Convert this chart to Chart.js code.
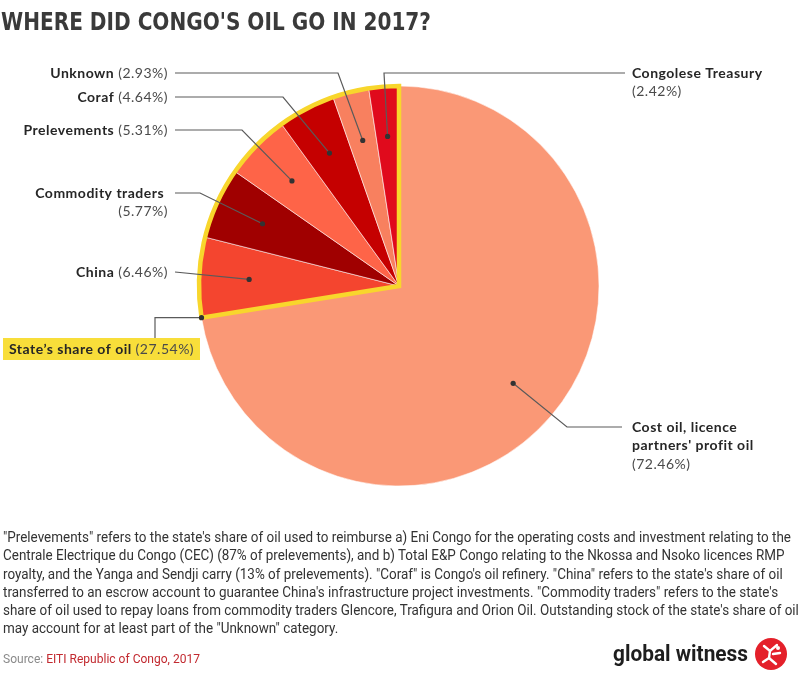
<!DOCTYPE html>
<html>
<head>
<meta charset="utf-8">
<script src="https://cdn.jsdelivr.net/npm/chart.js@4/dist/chart.umd.min.js"></script>
<style>
  html, body { margin: 0; padding: 0; background: #fff; }
  body { width: 800px; height: 678px; position: relative; overflow: hidden;
         font-family: "Liberation Sans Narrow", Roboto, sans-serif; }
  #pie { position: absolute; left: 0; top: 0; }
  .fit { transform-origin: 0 50%; display: inline-block; white-space: nowrap; }
  .title { position: absolute; left: 1px; top: 7px; color: #3a3a3a;
           font: bold 25px "DejaVu Sans Condensed", "DejaVu Sans", sans-serif; }
  .note { position: absolute; left: 3px; top: 528px; font-size: 15px; line-height: 18.3px; color: #333; }
  .note div { height: 18.3px; }
  .source { position: absolute; left: 3px; top: 650px; font-size: 13.5px; color: #8a8a8a; }
  .source .src { color: #c22a30; }
  .brand { position: absolute; left: 613px; top: 641px; font: bold 22px Roboto, sans-serif; color: #1e1e1e; }
  .logo { position: absolute; left: 754px; top: 637px; }
</style>
</head>
<body>
<canvas id="pie" width="800" height="678"></canvas>
<div class="title"><span class="fit" data-w="430">WHERE DID CONGO'S OIL GO IN 2017?</span></div>
<div class="note" id="note">
  <div><span class="fit">"Prelevements" refers to the state's share of oil used to reimburse a) Eni Congo for the operating costs and investment relating to the</span></div>
  <div><span class="fit">Centrale Electrique du Congo (CEC) (87% of prelevements), and b) Total E&amp;P Congo relating to the Nkossa and Nsoko licences RMP</span></div>
  <div><span class="fit">royalty, and the Yanga and Sendji carry (13% of prelevements). "Coraf" is Congo's oil refinery. "China" refers to the state's share of oil</span></div>
  <div><span class="fit">transferred to an escrow account to guarantee China's infrastructure project investments. "Commodity traders" refers to the state's</span></div>
  <div><span class="fit">share of oil used to repay loans from commodity traders Glencore, Trafigura and Orion Oil. Outstanding stock of the state's share of oil</span></div>
  <div><span class="fit">may account for at least part of the "Unknown" category.</span></div>
</div>
<div class="source"><span class="fit" data-w="197">Source: <span class="src">EITI Republic of Congo, 2017</span></span></div>
<div class="brand"><span class="fit" data-w="135">global witness</span></div>
<svg class="logo" width="34" height="34" viewBox="0 0 34 34">
  <circle cx="17" cy="17" r="16" fill="#e4202a"/>
  <g stroke="#fff" stroke-width="2.4" fill="none" stroke-linecap="round">
    <path d="M10 9 L16 14 L23 8"/>
    <path d="M16 14 L15 21 L9 25"/>
    <path d="M15 21 L22 27"/>
    <path d="M19 17 L26 16"/>
  </g>
  <circle cx="24" cy="11" r="2" fill="#fff"/>
</svg>

<script>
/* ── DATA ───────────────────────────────────────────────── */
const sliceNames  = ["Cost oil, licence partners' profit oil", "China", "Commodity traders",
                     "Prelevements", "Coraf", "Unknown", "Congolese Treasury"];
const sliceShares = [72.46, 6.46, 5.77, 5.31, 4.64, 2.93, 2.42];
const sliceColors = ["#fa9876", "#f4452f", "#a00000", "#fe6448", "#c50000", "#f8805f", "#e00a1c"];
const stateName   = "State’s share of oil";
const stateShare  = 27.54;

/* ── LABEL LAYOUT (position of text + elbow of leader) ──── */
const layout = [
  { lines: ["Cost oil, licence", "partners' profit oil"], pctOwnLine: true, align: "left",
    x: 632, y: 427, start: [622, 427], elbow: [567, 427] },
  { lines: ["China"], align: "right", x: 168, y: 272, start: [175, 272], elbow: null },
  { lines: ["Commodity traders"], pctOwnLine: true, align: "right",
    x: 168, y: 193, start: [175, 193], elbow: [200, 193] },
  { lines: ["Prelevements"], align: "right", x: 168, y: 130, start: [175, 130], elbow: [242, 130] },
  { lines: ["Coraf"], align: "right", x: 168, y: 97, start: [175, 97], elbow: [283, 97] },
  { lines: ["Unknown"], align: "right", x: 168, y: 73, start: [175, 73], elbow: [338, 73] },
  { lines: ["Congolese Treasury"], pctOwnLine: true, align: "left",
    x: 632, y: 73, start: [625, 73], elbow: [384, 73] }
];

const BOLD = "bold 14px Lato, 'Noto Sans', sans-serif";
const REG  = "14px Lato, 'Noto Sans', sans-serif";
const LINE_H = 18.5;

/* ── FIT TEXT WIDTHS ─────────────────────────────────────── */
document.querySelectorAll(".title .fit, .source .fit, .brand .fit").forEach(el => {
  const w = +el.dataset.w;
  el.style.transform = `scaleX(${w / el.getBoundingClientRect().width})`;
});
const noteSpans = [...document.querySelectorAll("#note .fit")];
const noteK = 788 / noteSpans[0].getBoundingClientRect().width;
noteSpans.forEach(el => el.style.transform = `scaleX(${noteK})`);

function drawLabel(ctx, text, pct, x, y, align) {
  ctx.textBaseline = "middle";
  ctx.letterSpacing = "0.5px";
  ctx.font = REG;
  const pw = ctx.measureText(pct).width;
  ctx.font = BOLD;
  const nw = text ? ctx.measureText(text + " ").width : 0;
  const left = align === "right" ? x - pw - nw : x;
  if (text) { ctx.fillStyle = "#262626"; ctx.fillText(text, left, y); }
  ctx.font = REG; ctx.fillStyle = "#4a4a4a";
  ctx.fillText(pct, left + nw, y);
}

const annotate = {
  id: "annotate",
  afterDatasetsDraw(chart) {
    const ctx  = chart.ctx;
    const arcs = chart.getDatasetMeta(0).data;
    const cx = arcs[0].x, cy = arcs[0].y, r = arcs[0].outerRadius;

    // yellow outline around the state's share group
    const a0 = arcs[1].startAngle, a1 = arcs[arcs.length - 1].endAngle;
    ctx.save();
    ctx.beginPath();
    ctx.moveTo(cx, cy);
    ctx.arc(cx, cy, r, a0, a1);
    ctx.closePath();
    ctx.lineWidth = 4.5;
    ctx.lineJoin = "miter";
    ctx.strokeStyle = "#f8d62c";
    ctx.stroke();
    ctx.restore();

    ctx.save();
    ctx.textAlign = "left";
    arcs.forEach((arc, i) => {
      const mid = (arc.startAngle + arc.endAngle) / 2;
      const dx = cx + Math.cos(mid) * r * 0.75;
      const dy = cy + Math.sin(mid) * r * 0.75;
      const L = layout[i];
      ctx.beginPath();
      ctx.moveTo(L.start[0], L.start[1]);
      if (L.elbow) ctx.lineTo(L.elbow[0], L.elbow[1]);
      ctx.lineTo(dx, dy);
      ctx.strokeStyle = "#5a5a5a"; ctx.lineWidth = 1.2; ctx.stroke();
      ctx.beginPath(); ctx.arc(dx, dy, 2.6, 0, Math.PI * 2);
      ctx.fillStyle = "#333"; ctx.fill();

      const pct = "(" + sliceShares[i].toFixed(2) + "%)";
      let y = L.y;
      L.lines.forEach((ln, k) => {
        const last = k === L.lines.length - 1;
        drawLabel(ctx, ln, last && !L.pctOwnLine ? pct : "", L.x, y, L.align);
        y += LINE_H;
      });
      if (L.pctOwnLine) drawLabel(ctx, "", pct, L.x, y, L.align);
    });

    // state's share callout at outer edge of group boundary
    const ex = cx + Math.cos(a0) * r, ey = cy + Math.sin(a0) * r;
    ctx.beginPath();
    ctx.moveTo(ex, ey); ctx.lineTo(155, ey); ctx.lineTo(155, 338);
    ctx.strokeStyle = "#5a5a5a"; ctx.lineWidth = 1.2; ctx.stroke();
    ctx.beginPath(); ctx.arc(ex, ey, 2.6, 0, Math.PI * 2);
    ctx.fillStyle = "#333"; ctx.fill();
    ctx.fillStyle = "#f8de3a";
    ctx.fillRect(3, 338, 197, 22);
    drawLabel(ctx, stateName, "(" + stateShare.toFixed(2) + "%)", 9, 349.5, "left");
    ctx.restore();
  }
};

new Chart(document.getElementById("pie"), {
  type: "pie",
  data: {
    labels: sliceNames,
    datasets: [{
      data: sliceShares,
      backgroundColor: sliceColors,
      borderColor: "rgba(255,255,255,0.55)",
      borderWidth: 1
    }]
  },
  options: {
    responsive: false,
    animation: false,
    events: [],
    radius: 200,
    layout: { padding: { left: 199, right: 201, top: 86, bottom: 192 } },
    plugins: { legend: { display: false }, tooltip: { enabled: false } }
  },
  plugins: [annotate]
});
</script>
</body>
</html>
